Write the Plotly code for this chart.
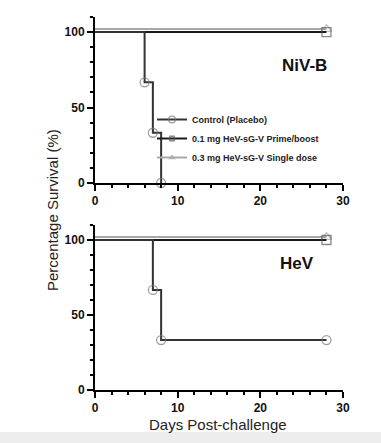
import plotly.graph_objects as go

# ---- data ----
niv_days_control = [0, 6, 7, 8]
niv_surv_control = [100, 66.7, 33.3, 0]
niv_days_prime = [0, 28]
niv_surv_prime = [100, 100]
niv_days_single = [0, 28]
niv_surv_single = [102, 102]

hev_days_control = [0, 7, 8, 28]
hev_surv_control = [100, 66.7, 33.3, 33.3]
hev_days_prime = [0, 28]
hev_surv_prime = [100, 100]
hev_days_single = [0, 28]
hev_surv_single = [102, 102]

series_names = ["Control (Placebo)", "0.1 mg HeV-sG-V Prime/boost", "0.3 mg HeV-sG-V Single dose"]
x_ticks = [0, 10, 20, 30]
y_ticks = [0, 50, 100]

FONT = "Arial, Liberation Sans, sans-serif"
W, H = 381, 443

styles = [
    dict(line_color="#333333", marker_symbol="circle-open", marker_color="#777777"),
    dict(line_color="#1a1a1a", marker_symbol="square-open", marker_color="#555555"),
    dict(line_color="#a8a8a8", marker_symbol="triangle-up-open", marker_color="#a8a8a8"),
]

fig = go.Figure()

panels = [
    ("x", "y", [(niv_days_single, niv_surv_single), (niv_days_prime, niv_surv_prime), (niv_days_control, niv_surv_control)], True),
    ("x2", "y2", [(hev_days_single, hev_surv_single), (hev_days_prime, hev_surv_prime), (hev_days_control, hev_surv_control)], False),
]
order = [2, 1, 0]
for xa, ya, data, show in panels:
    for idx, (d, s) in zip(order, data):
        st = styles[idx]
        sizes = [0] + [9] * (len(d) - 1)
        fig.add_trace(go.Scatter(
            x=d, y=s, mode="lines+markers", name=series_names[idx],
            line=dict(color=st["line_color"], width=2, shape="hv"),
            marker=dict(symbol=st["marker_symbol"], size=sizes, color=st["marker_color"],
                        line=dict(width=1.3, color=st["marker_color"])),
            xaxis=xa, yaxis=ya, showlegend=show, legendrank=idx + 1, cliponaxis=False,
        ))

def px_x(p):
    return p / W

def px_y(p):
    return 1 - p / H

xdom = [px_x(95), px_x(343)]
ax_common = dict(showline=True, linewidth=2, linecolor="black", ticks="outside",
                 tickwidth=2, ticklen=6, tickcolor="black", showgrid=False, zeroline=False,
                 automargin=False,
                 tickfont=dict(family=FONT, size=12, color="#111111", weight="bold"))
xax = dict(ax_common, range=[0, 30], tickvals=x_ticks, domain=xdom,
           minor=dict(dtick=2, ticks="outside", ticklen=3, tickwidth=1.5, tickcolor="black"))
yax = dict(ax_common, range=[0, 110], tickvals=y_ticks,
           minor=dict(dtick=10, ticks="outside", ticklen=3, tickwidth=1.5, tickcolor="black"))

def ann(text, x, y, size, bold=False, angle=0, color="#111111"):
    f = dict(family=FONT, size=size, color=color)
    if bold:
        f["weight"] = "bold"
    return dict(text=text, x=px_x(x), y=px_y(y), xref="paper", yref="paper", showarrow=False,
                xanchor="center", yanchor="middle", textangle=angle, font=f)

fig.update_layout(
    template="none",
    width=W, height=H, margin=dict(l=0, r=0, t=0, b=0, pad=0, autoexpand=False),
    paper_bgcolor="white", plot_bgcolor="white",
    xaxis=dict(xax, anchor="y"),
    yaxis=dict(yax, domain=[px_y(183), px_y(17)], anchor="x"),
    xaxis2=dict(xax, anchor="y2"),
    yaxis2=dict(yax, domain=[px_y(390), px_y(225)], anchor="x2"),
    legend=dict(x=px_x(152), y=px_y(105), xanchor="left", yanchor="top",
                font=dict(family=FONT, size=9, color="#222222", weight="bold"),
                bgcolor="rgba(0,0,0,0)", tracegroupgap=0, itemwidth=30),
    font=dict(family=FONT),
    annotations=[
        ann("NiV-B", 304, 65, 17, bold=True),
        ann("HeV", 297, 263, 17, bold=True),
        ann("Percentage Survival (%)", 52, 210, 15, angle=-90, color="#222222"),
        ann("Days Post-challenge", 218, 424, 15, color="#222222"),
    ],
    shapes=[
        dict(type="rect", xref="paper", yref="paper", x0=0, x1=1, y0=0, y1=px_y(432),
             fillcolor="#ededed", line=dict(width=0), layer="below"),
    ],
)

fig.write_html("out.html", config={"displayModeBar": False},
               post_script="document.body.style.margin='0px';document.body.style.overflow='hidden';")
